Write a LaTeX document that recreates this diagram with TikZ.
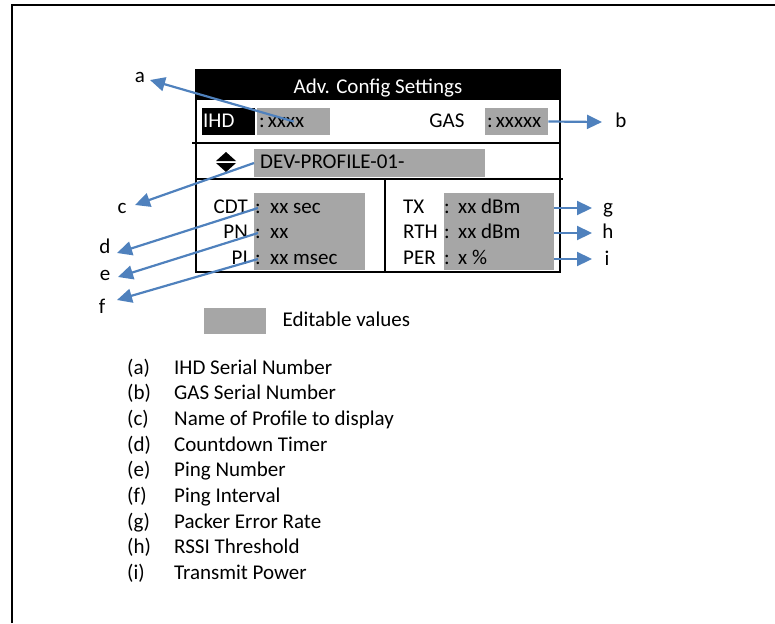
\documentclass[tikz,border=0pt]{standalone}
\usepackage{fontspec}
\setmainfont{Carlito}
\usetikzlibrary{arrows.meta,positioning}
\definecolor{editgray}{HTML}{A6A6A6}
\definecolor{callblue}{HTML}{4F81BD}

\begin{document}
\begin{tikzpicture}[
    x=1pt, y=-1pt,
    every node/.style={font=\fontsize{21}{25.7}\selectfont, inner sep=2pt, text height=15pt, text depth=4pt},
    frame/.style={line width=2pt},
    valbox/.style={fill=editgray, inner xsep=2pt, inner ysep=0pt, minimum height=27pt, align=left, anchor=west},
    panel/.style={fill=editgray, inner sep=0pt, minimum height=77pt, anchor=north west},
    tag/.style={inner sep=1pt, text height=10pt, text depth=0pt},
    callout/.style={draw=callblue, line width=2.2pt, -{Triangle[length=15pt,width=14pt]}}
  ]
  \useasboundingbox (0,0) rectangle (775,623);

  % outer frame (only top and left edges show)
  \draw[frame] (12,623) |- (775,5);

  % screen: title bar, frame and separators
  \fill (196,70) rectangle (560,100);
  \node[text=white] (title) at (378,87.5) {Adv. Config Settings};
  \draw[frame] (196,70) rectangle (560,272);
  \draw[frame] (192,143) -- (560,143);
  \draw[frame] (196,179) -- (563,179);
  \draw[frame] (385,179) -- (385,272);

  % first row
  \node[valbox, fill=black, text=white, inner xsep=1pt, text width=51pt] (ihd) at (202,121.5) {IHD};
  \node[valbox, text width=69pt] (ihdval) at (257,121.5) {\mbox{:\hspace{3pt}xxxx}};
  \node (gas) at (447,122.5) {GAS};
  \node[valbox, text width=59pt] (gasval) at (485,121.5) {\mbox{:\hspace{3pt}xxxxx}};

  % profile row
  \fill (216,161) -- (236,161) -- (226,152) -- cycle;
  \fill (216,163) -- (236,163) -- (226,172) -- cycle;
  \node[valbox, inner xsep=6pt, text width=219pt, minimum height=28pt] (profile) at (254,163) {DEV-PROFILE-01-};

  % lower panels
  \node[panel, minimum width=111pt] (lgray) at (254,193) {};
  \node[panel, minimum width=110pt] (rgray) at (444,193) {};
  \foreach \nm/\lab/\val/\y in {cdt/CDT/xx sec/208, pn/PN/xx/233, pi/PI/xx msec/259} {
    \node[anchor=east] (\nm) at (250,\y) {\lab};
    \node (\nm-c) at (258,\y) {:};
    \node[anchor=west] (\nm-v) at (268,\y) {\val};
  }
  \foreach \nm/\lab/\val/\y in {tx/TX/xx dBm/208, rth/RTH/xx dBm/233, per/PER/x \%/259} {
    \node[anchor=west] (\nm) at (401,\y) {\lab};
    \node (\nm-c) at (447,\y) {:};
    \node[anchor=west] (\nm-v) at (456,\y) {\val};
  }

  % callout letters
  \node[tag] (la) at (140,78) {a};
  \node[tag] (lb) at (621,123) {b};
  \node[tag] (lc) at (122,208) {c};
  \node[tag] (ld) at (105,248) {d};
  \node[tag] (le) at (105,275) {e};
  \node[tag] (lf) at (102,308) {f};
  \node[tag] (lg) at (608,208) {g};
  \node[tag] (lh) at (608,233) {h};
  \node[tag] (li) at (607,260) {i};

  \coordinate (atip) at (150,80);
  \coordinate (btip) at (602,122);
  \coordinate (ctip) at (135,205);
  \coordinate (dtip) at (117,253);
  \coordinate (etip) at (118,277);
  \coordinate (ftip) at (117,300);
  \coordinate (gtip) at (592,208);
  \coordinate (htip) at (592,233);
  \coordinate (itip) at (592,259);

  \draw[callout] (ihdval.center) -- (atip);
  \draw[callout] (gasval.east) -- (btip);
  \draw[callout] (profile.west) -- (ctip);
  \draw[callout] (cdt-c.center) -- (dtip);
  \draw[callout] (pn-c.center) -- (etip);
  \draw[callout] (pi-c.center) -- (ftip);
  \draw[callout] (tx-v -| rgray.east) -- (gtip);
  \draw[callout] (rth-v -| rgray.east) -- (htip);
  \draw[callout] (per-v -| rgray.east) -- (itip);

  % legend
  \node[fill=editgray, inner sep=0pt, minimum width=62pt, minimum height=26pt, anchor=north west] (legbox) at (204,308) {};
  \node[anchor=west, right=14pt of legbox] (legtext) {Editable values};

  % key list
  \foreach \t/\d [count=\k from 0] in {a/IHD Serial Number, b/GAS Serial Number,
      c/Name of Profile to display, d/Countdown Timer, e/Ping Number, f/Ping Interval,
      g/Packer Error Rate, h/RSSI Threshold, i/Transmit Power} {
    \node[anchor=west] (key\t) at (125,{368.5+25.7*\k}) {(\t)};
    \node[anchor=west] (desc\t) at (172,{368.5+25.7*\k}) {\d};
  }

\end{tikzpicture}
\end{document}
